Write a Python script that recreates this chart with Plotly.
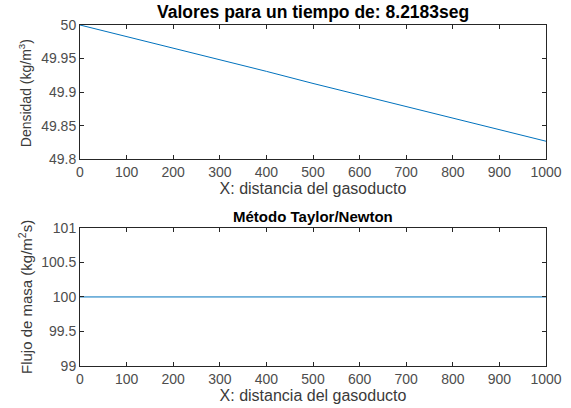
import plotly.graph_objects as go

x_dist = [0, 100, 200, 300, 400, 500, 600, 700, 800, 900, 1000]
densidad = [50.0, 49.983, 49.965, 49.948, 49.931, 49.913, 49.896, 49.879, 49.862, 49.844, 49.827]
flujo = [100, 100, 100, 100, 100, 100, 100, 100, 100, 100, 100]

x_ticks = [0, 100, 200, 300, 400, 500, 600, 700, 800, 900, 1000]
y1_ticks = [49.8, 49.85, 49.9, 49.95, 50]
y1_labels = ["49.8", "49.85", "49.9", "49.95", "50"]
y2_ticks = [99, 99.5, 100, 100.5, 101]
y2_labels = ["99", "99.5", "100", "100.5", "101"]

title_top = "Valores para un tiempo de: 8.2183seg"
title_bot = "Método Taylor/Newton"
xlabel = "X: distancia del gasoducto"
ylabel_top = "Densidad (kg/m<sup>3</sup>)"
ylabel_bot = "Flujo de masa (kg/m<sup>2</sup>s)"

LINE = "#0072BD"
FONT = "Liberation Sans, Arial, Helvetica, sans-serif"
TICKC = "#4d4d4d"
LABC = "#3a3a3a"

fig = go.Figure()
fig.add_trace(go.Scatter(x=x_dist, y=densidad, mode="lines",
                         line=dict(color=LINE, width=1), xaxis="x", yaxis="y", showlegend=False))
fig.add_trace(go.Scatter(x=x_dist, y=flujo, mode="lines",
                         line=dict(color=LINE, width=1), xaxis="x2", yaxis="y2", showlegend=False))

axis_common = dict(showline=True, linecolor="#262626", linewidth=1, mirror="ticks",
                   ticks="inside", ticklen=4, tickcolor="#262626", showgrid=False,
                   zeroline=False, automargin=False,
                   tickfont=dict(family=FONT, size=14, color=TICKC))

fig.update_layout(
    width=571, height=408,
    margin=dict(l=80, r=25, t=25, b=42),
    paper_bgcolor="white", plot_bgcolor="white",
    font=dict(family=FONT),
    xaxis=dict(domain=[0, 1], range=[0, 1000], tickvals=x_ticks, anchor="y",
               title=dict(text=xlabel, font=dict(family=FONT, size=16, color=LABC), standoff=3),
               **axis_common),
    yaxis=dict(domain=[0.606, 1], range=[49.8, 50], tickvals=y1_ticks, ticktext=y1_labels, anchor="x",
               **axis_common),
    xaxis2=dict(domain=[0, 1], range=[0, 1000], tickvals=x_ticks, anchor="y2",
                title=dict(text=xlabel, font=dict(family=FONT, size=16, color=LABC), standoff=3),
                **axis_common),
    yaxis2=dict(domain=[0, 0.405], range=[99, 101], tickvals=y2_ticks, ticktext=y2_labels, anchor="x2",
                **axis_common),
    annotations=[
        dict(text="<b>" + title_top + "</b>", xref="paper", yref="paper", x=0.5, y=1.0,
             xanchor="center", yanchor="bottom", yshift=1, showarrow=False,
             font=dict(family=FONT, size=17.5, color="black")),
        dict(text="<b>" + title_bot + "</b>", xref="paper", yref="paper", x=0.5, y=0.405,
             xanchor="center", yanchor="bottom", yshift=1, showarrow=False,
             font=dict(family=FONT, size=15, color="black")),
        dict(text=ylabel_top, xref="paper", yref="paper", x=-0.118, y=0.80,
             xanchor="center", yanchor="middle", textangle=-90, showarrow=False,
             font=dict(family=FONT, size=14, color=LABC)),
        dict(text=ylabel_bot, xref="paper", yref="paper", x=-0.118, y=0.2023,
             xanchor="center", yanchor="middle", textangle=-90, showarrow=False,
             font=dict(family=FONT, size=15, color=LABC)),
    ],
)

fig.write_html("out.html", config={"displayModeBar": False},
               post_script="document.body.style.margin='0px';")
